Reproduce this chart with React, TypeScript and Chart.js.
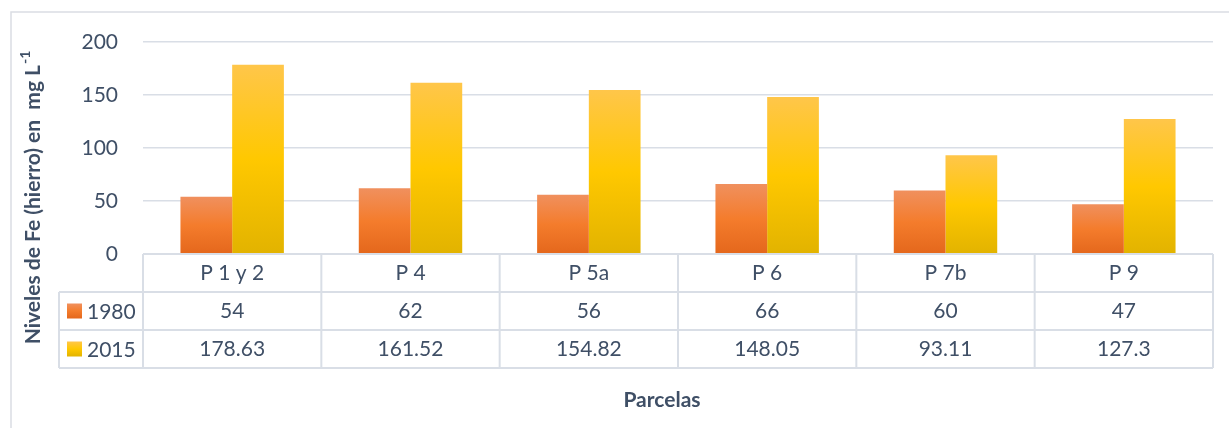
import React, { useEffect, useRef } from "react";
import { Chart, registerables } from "chart.js";

Chart.register(...registerables);

// Parcels and Fe levels (mg L-1) for each sampling year
const categories = ["P 1 y 2", "P 4", "P 5a", "P 6", "P 7b", "P 9"];
const series1980 = [54, 62, 56, 66, 60, 47];
const series2015 = [178.63, 161.52, 154.82, 148.05, 93.11, 127.3];
const seriesLabels = ["1980", "2015"];
const yMin = 0;
const yMax = 200;
const yStep = 50;

const TEXT = "#3F4F66";
const LINE = "#D9DEE6";
const FONT = "Lato, 'Open Sans', sans-serif";

const orangeStops: [number, string][] = [
  [0, "#F0905E"],
  [0.5, "#F47C2C"],
  [1, "#E4671C"],
];
const yellowStops: [number, string][] = [
  [0, "#FFC64A"],
  [0.5, "#FFC800"],
  [1, "#E2B300"],
];

const makeGradient = (c: CanvasRenderingContext2D, top: number, bottom: number, stops: [number, string][]) => {
  const g = c.createLinearGradient(0, top, 0, bottom);
  stops.forEach(([o, col]) => g.addColorStop(o, col));
  return g;
};

const barFill = (stops: [number, string][]) => (ctx: any) => {
  const chart = ctx.chart;
  const y = chart.scales && chart.scales.y;
  if (!y || ctx.type !== "data") return stops[1][1];
  const top = y.getPixelForValue(ctx.raw);
  const bottom = y.getPixelForValue(0);
  if (!isFinite(top) || !isFinite(bottom) || top === bottom) return stops[1][1];
  return makeGradient(chart.ctx, top, bottom, stops);
};

// Outer frame, data table under the axis, and both axis titles
const decorations = {
  id: "decorations",
  beforeDraw(chart: any) {
    const c: CanvasRenderingContext2D = chart.ctx;
    c.save();
    c.strokeStyle = "#DADDE3";
    c.lineWidth = 1.5;
    c.beginPath();
    c.moveTo(11, chart.height);
    c.lineTo(11, 12);
    c.lineTo(chart.width, 12);
    c.stroke();
    c.restore();
  },
  afterDraw(chart: any) {
    const c: CanvasRenderingContext2D = chart.ctx;
    const x = chart.scales.x;
    const y = chart.scales.y;
    const n = categories.length;
    const left = chart.chartArea.left;
    const right = chart.chartArea.right;
    const colW = (right - left) / n;
    const top = y.getPixelForValue(0);
    const rowH = 38;
    const legendLeft = 59;

    c.save();
    c.strokeStyle = LINE;
    c.lineWidth = 2;
    // horizontal rules
    c.beginPath();
    c.moveTo(left, top);
    c.lineTo(right, top);
    for (let r = 1; r <= 3; r++) {
      c.moveTo(legendLeft, top + rowH * r);
      c.lineTo(right, top + rowH * r);
    }
    // vertical rules
    for (let i = 0; i <= n; i++) {
      const xx = left + colW * i;
      c.moveTo(xx, top);
      c.lineTo(xx, top + rowH * 3);
    }
    c.moveTo(legendLeft, top + rowH);
    c.lineTo(legendLeft, top + rowH * 3);
    c.stroke();

    c.fillStyle = TEXT;
    c.font = `21px ${FONT}`;
    c.textAlign = "center";
    c.textBaseline = "middle";
    const rows = [series1980, series2015];
    for (let i = 0; i < n; i++) {
      const cx = x.getPixelForValue(i);
      c.fillText(categories[i], cx, top + rowH * 0.5);
      rows.forEach((vals, r) => {
        c.fillText(String(vals[i]), cx, top + rowH * (r + 1.5));
      });
    }

    // legend keys in the row headers
    const keyStops = [orangeStops, yellowStops];
    seriesLabels.forEach((lab, r) => {
      const cy = top + rowH * (r + 1.5);
      c.fillStyle = makeGradient(c, cy - 7.5, cy + 7.5, keyStops[r]);
      c.fillRect(67, cy - 7.5, 15, 15);
      c.fillStyle = TEXT;
      c.textAlign = "left";
      c.fillText(lab, 87, cy + 1);
    });

    // x axis title
    c.font = `bold 21px ${FONT}`;
    c.textAlign = "center";
    c.fillText("Parcelas", 662, 400);

    // y axis title with superscript
    c.translate(33, 198);
    c.rotate(-Math.PI / 2);
    const main = "Niveles de Fe (hierro) en  mg L";
    const sup = "-1";
    c.font = `bold 21px ${FONT}`;
    const wMain = c.measureText(main).width;
    c.font = `bold 14px ${FONT}`;
    const wSup = c.measureText(sup).width;
    const start = -(wMain + wSup) / 2;
    c.textAlign = "left";
    c.font = `bold 21px ${FONT}`;
    c.fillText(main, start, 0);
    c.font = `bold 14px ${FONT}`;
    c.fillText(sup, start + wMain + 1, -8);
    c.restore();
  },
};

export default function App() {
  const ref = useRef<HTMLCanvasElement>(null);

  useEffect(() => {
    if (!ref.current) return;
    const chart = new Chart(ref.current, {
      type: "bar",
      data: {
        labels: categories,
        datasets: [
          {
            label: seriesLabels[0],
            data: series1980,
            backgroundColor: barFill(orangeStops),
            borderWidth: 0,
          },
          {
            label: seriesLabels[1],
            data: series2015,
            backgroundColor: barFill(yellowStops),
            borderWidth: 0,
          },
        ],
      },
      options: {
        responsive: false,
        animation: false,
        events: [],
        layout: { padding: { top: 42, right: 16, bottom: 174, left: 0 } },
        datasets: {
          bar: { categoryPercentage: 0.58, barPercentage: 1 },
        },
        plugins: {
          legend: { display: false },
          tooltip: { enabled: false },
          title: { display: false },
        },
        scales: {
          x: {
            display: false,
          },
          y: {
            min: yMin,
            max: yMax,
            ticks: {
              stepSize: yStep,
              color: TEXT,
              padding: 25,
              font: { family: FONT, size: 21 },
            },
            grid: {
              color: LINE,
              lineWidth: 1.5,
              drawTicks: false,
            },
            border: { display: false },
            afterFit(scale: any) {
              scale.width = 143;
            },
          },
        },
      },
      plugins: [decorations],
    });
    return () => chart.destroy();
  }, []);

  return (
    <div style={{ position: "absolute", left: 0, top: 0, width: 1229, height: 428, background: "#fff" }}>
      <canvas ref={ref} width={1229} height={428} />
    </div>
  );
}
